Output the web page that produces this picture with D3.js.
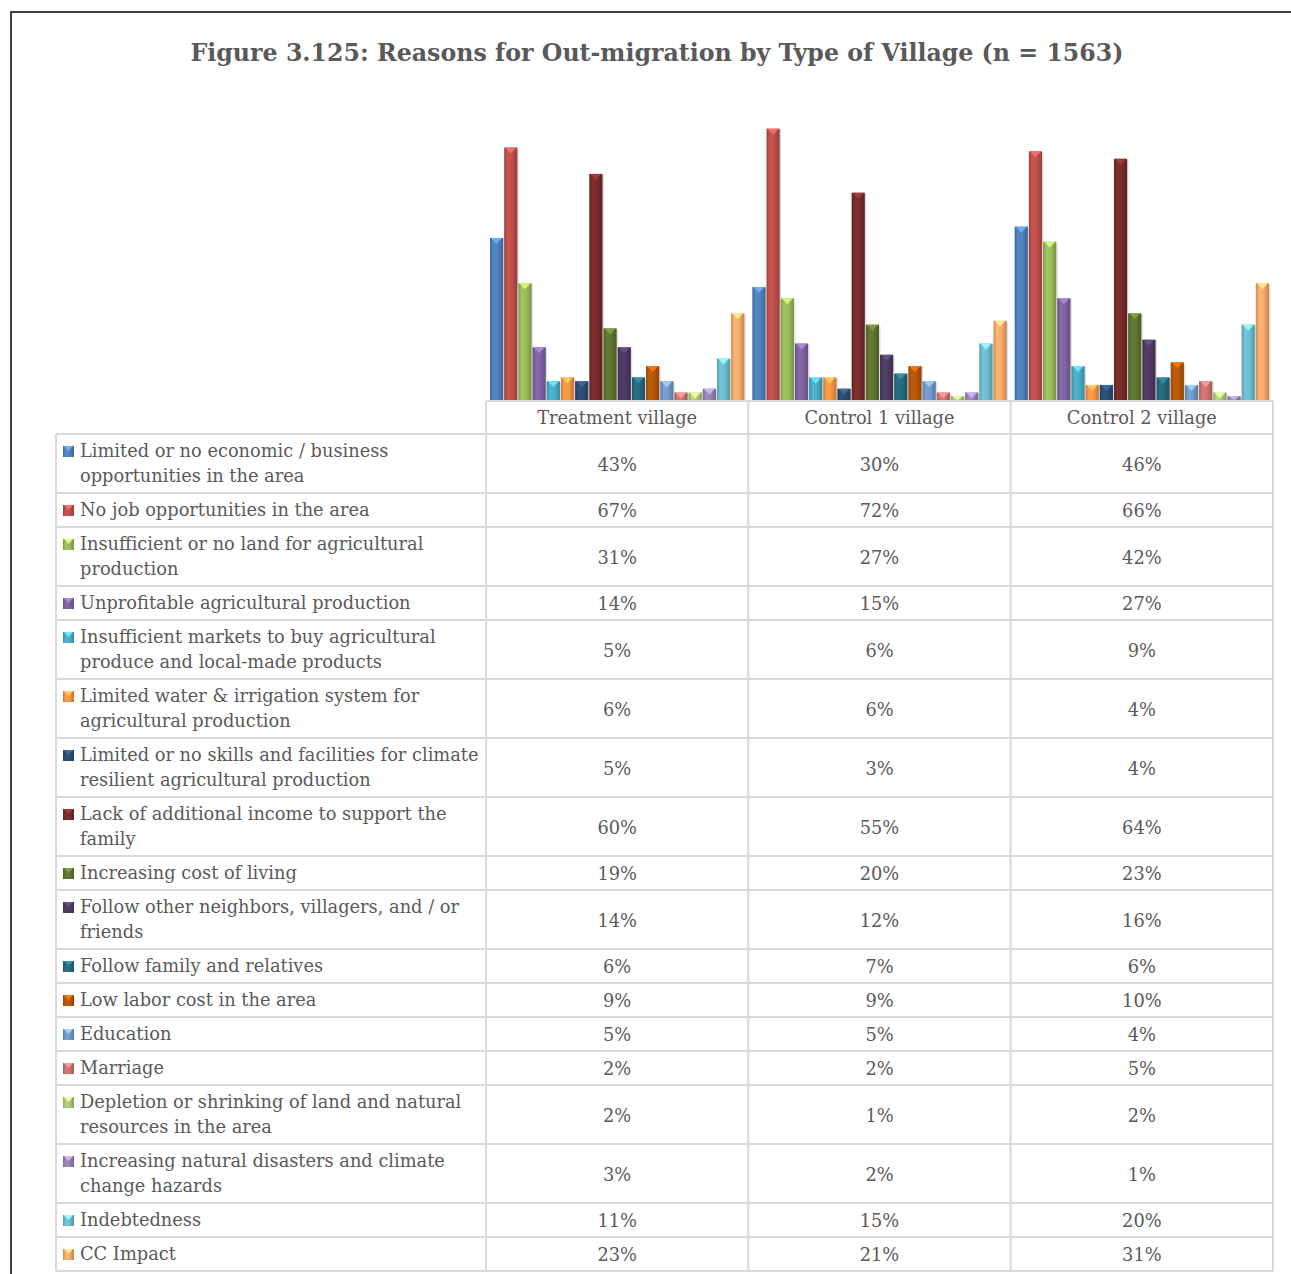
<!DOCTYPE html>
<html><head><meta charset="utf-8">
<script src="https://cdn.jsdelivr.net/npm/d3@7/dist/d3.min.js"></script>
<style>html,body{margin:0;padding:0;background:#fff;}svg{display:block;}</style>
</head><body>
<script>
const title = "Figure 3.125: Reasons for Out-migration by Type of Village (n = 1563)";
const villages = ["Treatment village", "Control 1 village", "Control 2 village"];
const reasons = [
  "Limited or no economic / business\nopportunities in the area",
  "No job opportunities in the area",
  "Insufficient or no land for agricultural\nproduction",
  "Unprofitable agricultural production",
  "Insufficient markets to buy agricultural\nproduce and local-made products",
  "Limited water & irrigation system for\nagricultural production",
  "Limited or no skills and facilities for climate\nresilient agricultural production",
  "Lack of additional income to support the\nfamily",
  "Increasing cost of living",
  "Follow other neighbors, villagers, and / or\nfriends",
  "Follow family and relatives",
  "Low labor cost in the area",
  "Education",
  "Marriage",
  "Depletion or shrinking of land and natural\nresources in the area",
  "Increasing natural disasters and climate\nchange hazards",
  "Indebtedness",
  "CC Impact"
];
const treatment = [43, 67, 31, 14, 5, 6, 5, 60, 19, 14, 6, 9, 5, 2, 2, 3, 11, 23];
const control1  = [30, 72, 27, 15, 6, 6, 3, 55, 20, 12, 7, 9, 5, 2, 1, 2, 15, 21];
const control2  = [46, 66, 42, 27, 9, 4, 4, 64, 23, 16, 6, 10, 4, 5, 2, 1, 20, 31];
const colors = ["#4F81BD","#C0504D","#9BBB59","#8064A2","#4BACC6","#F79646",
                "#2C4D75","#772C2A","#5F7530","#4D3B62","#276A7C","#B65708",
                "#729ACA","#CD7371","#AFC97A","#9983B5","#6FBDD1","#F9AB6B"];

const valuesByVillage = [treatment, control1, control2];

const W = 1291, H = 1274;
const FS = 17.8;
const svg = d3.select("body").append("svg").attr("width", W).attr("height", H)
  .style("font-family", "'DejaVu Serif', serif");

// outer frame
svg.append("path").attr("d", `M11,${H} L11,12 L${W},12`)
  .attr("fill", "none").attr("stroke", "#000").attr("stroke-width", 1.5);

svg.append("text").attr("x", 657).attr("y", 61).attr("text-anchor", "middle")
  .attr("font-size", 25).attr("font-weight", "bold").attr("fill", "#595959")
  .attr("textLength", 933).attr("lengthAdjust", "spacingAndGlyphs")
  .text(title);

// gradients
const defs = svg.append("defs");
colors.forEach((c, i) => {
  const g = defs.append("linearGradient").attr("id", "g" + i)
    .attr("x1", "0").attr("x2", "1").attr("y1", "0").attr("y2", "0");
  const base = d3.color(c);
  g.append("stop").attr("offset", "0%").attr("stop-color", base.darker(0.6));
  g.append("stop").attr("offset", "25%").attr("stop-color", base.brighter(0.15));
  g.append("stop").attr("offset", "60%").attr("stop-color", base);
  g.append("stop").attr("offset", "100%").attr("stop-color", base.darker(0.7));
});

const tableLeft = 56, legendRight = 486, tableRight = 1273;
const x = d3.scaleBand().domain(villages).range([legendRight, tableRight]);
const y = d3.scaleLinear().domain([0, 80]).range([400, 98.5]);

// bars
const inner = d3.scaleBand().domain(d3.range(reasons.length))
  .range([4, x.bandwidth() - 4]).paddingInner(0.07);

villages.forEach((v, vi) => {
  const grp = svg.append("g").attr("transform", `translate(${x(v)},0)`);
  const bars = grp.selectAll("g.bar").data(valuesByVillage[vi]).join("g").attr("class", "bar");
  bars.append("rect")
    .attr("x", (d, i) => inner(i) + 1.5).attr("y", d => y(d) + 1)
    .attr("width", inner.bandwidth()).attr("height", d => y(0) - y(d))
    .attr("fill", "rgba(0,0,0,0.12)");
  bars.append("rect")
    .attr("x", (d, i) => inner(i)).attr("y", d => y(d))
    .attr("width", inner.bandwidth()).attr("height", d => y(0) - y(d))
    .attr("fill", (d, i) => `url(#g${i})`);
  bars.append("path")
    .attr("d", (d, i) => {
      const x0 = inner(i), w = inner.bandwidth(), t = y(d);
      const h = Math.min(6, (y(0) - t));
      return `M${x0 + 1},${t} L${x0 + w - 1},${t} L${x0 + w / 2},${t + h} Z`;
    })
    .attr("fill", (d, i) => d3.color(colors[i]).brighter(0.9))
    .attr("opacity", 0.9);
});

// table rows
const lineH = 25, single = 34, dbl = 59;
const headerTop = 401, headerH = 33;
const rows = [];
let yy = headerTop + headerH;
reasons.forEach((r, i) => {
  const lines = r.split("\n");
  const h = lines.length > 1 ? dbl : single;
  rows.push({ i, lines, top: yy, h });
  yy += h;
});
const tableBottom = yy;
const gridColor = "#d9d9d9";
const grid = svg.append("g").attr("stroke", gridColor).attr("stroke-width", 2);

// header
grid.append("line").attr("x1", legendRight).attr("x2", tableRight).attr("y1", headerTop).attr("y2", headerTop);
villages.forEach(v => {
  svg.append("text").attr("x", x(v) + x.bandwidth() / 2).attr("y", headerTop + 23)
    .attr("text-anchor", "middle").attr("font-size", FS).attr("fill", "#595959").text(v);
});
// horizontal lines
grid.selectAll("line.h").data(rows).join("line").attr("class", "h")
  .attr("x1", tableLeft).attr("x2", tableRight).attr("y1", d => d.top).attr("y2", d => d.top);
grid.append("line").attr("x1", tableLeft).attr("x2", tableRight).attr("y1", tableBottom).attr("y2", tableBottom);
// vertical lines
grid.append("line").attr("x1", tableLeft).attr("x2", tableLeft).attr("y1", headerTop + headerH).attr("y2", tableBottom);
[...villages.map(v => x(v)), tableRight].forEach(xx => {
  grid.append("line").attr("x1", xx).attr("x2", xx).attr("y1", headerTop).attr("y2", tableBottom);
});

// legend keys and labels
rows.forEach(r => {
  const ky = r.top + 12;
  svg.append("rect").attr("x", 63).attr("y", ky).attr("width", 11).attr("height", 11)
    .attr("fill", `url(#g${r.i})`);
  svg.append("path").attr("d", `M64,${ky} L73,${ky} L68.5,${ky + 5} Z`)
    .attr("fill", d3.color(colors[r.i]).brighter(0.9));
  const t = svg.append("text").attr("font-size", FS).attr("fill", "#595959");
  r.lines.forEach((ln, li) => {
    t.append("tspan").attr("x", 80).attr("y", r.top + 23 + li * lineH).text(ln);
  });
  villages.forEach((v, vi) => {
    svg.append("text").attr("x", x(v) + x.bandwidth() / 2).attr("y", r.top + r.h / 2 + 7)
      .attr("text-anchor", "middle").attr("font-size", FS).attr("fill", "#595959")
      .text(valuesByVillage[vi][r.i] + "%");
  });
});
</script>
</body></html>
